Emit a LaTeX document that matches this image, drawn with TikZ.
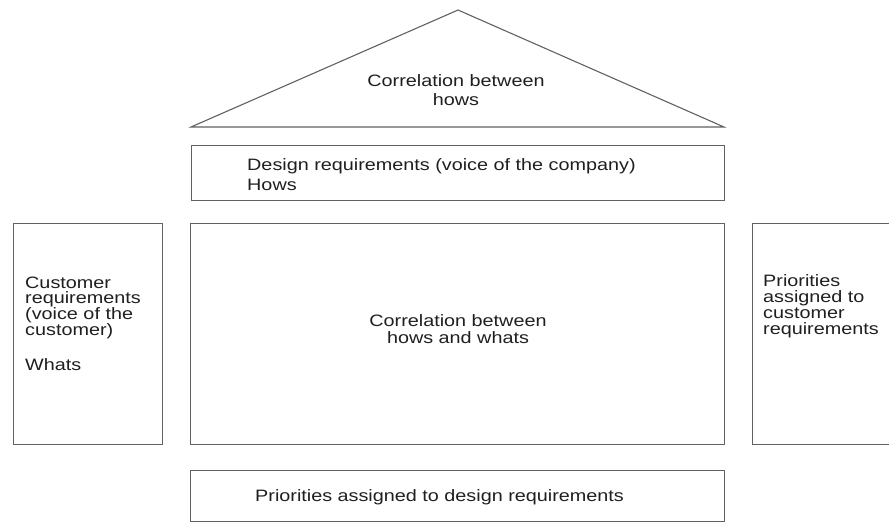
\documentclass[tikz,border=0pt]{standalone}
\usepackage{fontspec}
\setmainfont{Liberation Sans}[FakeStretch=1.2]
\definecolor{rule}{gray}{0.38}
\definecolor{ink}{gray}{0.12}

\begin{document}
\begin{tikzpicture}[x=1pt,y=-1pt,
    box/.style={draw=rule,line width=1.1pt,inner sep=0,anchor=north west},
    txt/.style={text=ink,inner sep=0,font=\fontsize{16.5}{15.7}\selectfont}]

\useasboundingbox (0,0) rectangle (889,523);
\clip (0,0) rectangle (889,523);

% roof
\coordinate (apex) at (458,10);
\coordinate (eaveL) at (191,127);
\coordinate (eaveR) at (724,127);
\draw[draw=rule,line width=1.1pt,line join=miter] (eaveL) -- (apex) -- (eaveR) -- cycle;
% multi-line nodes sit on the baseline of their last line
\node[txt,align=center,anchor=base,font=\fontsize{16.5}{19}\selectfont] (roof) at (456,105)
    {Correlation between\\hows};

% boxes
\node[box,minimum width=533,minimum height=55] (hows) at (191,145) {};
\node[box,minimum width=534,minimum height=221] (matrix) at (190,223) {};
\node[box,minimum width=149,minimum height=221] (whats) at (13,223) {};
\node[box,minimum width=170,minimum height=221] (custprio) at (752,223) {};
\node[box,minimum width=534,minimum height=51] (designprio) at (190,470) {};

% texts
\node[txt,align=left,anchor=base west,font=\fontsize{16.5}{20}\selectfont] (hows-t) at (247,190)
    {Design requirements (voice of the company)\\Hows};
\node[txt,align=center,anchor=base,font=\fontsize{16.5}{17}\selectfont] (matrix-t) at (458,343)
    {Correlation between\\hows and whats};
\node[txt,align=left,anchor=base west] (whats-t) at (25,370)
    {Customer\\requirements\\(voice of the\\customer)\\[19pt]Whats};
\node[txt,align=left,anchor=base west] (custprio-t) at (763,334)
    {Priorities\\assigned to\\customer\\requirements};
\node[txt,anchor=base west] (designprio-t) at (255,501)
    {Priorities assigned to design requirements};

\end{tikzpicture}
\end{document}
